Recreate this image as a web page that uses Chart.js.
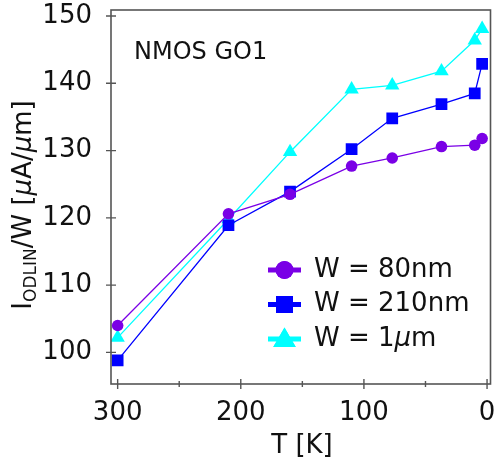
<!DOCTYPE html>
<html>
<head>
<meta charset="utf-8">
<script src="https://cdn.jsdelivr.net/npm/chart.js@4/dist/chart.umd.min.js"></script>
<style>
html,body{margin:0;padding:0;background:#fff;}
#wrap{width:495px;height:472px;position:relative;}
</style>
</head>
<body>
<div id="wrap"><canvas id="c" width="495" height="472"></canvas></div>
<script>
const temps = [300, 210, 160, 110, 77, 37, 10, 4];
const w80nm = [104.0, 120.6, 123.5, 127.7, 128.9, 130.6, 130.8, 131.8];
const w210nm = [98.8, 118.9, 123.9, 130.2, 134.8, 136.9, 138.5, 142.9];
const w1um = [102.2, 119.8, 129.8, 139.1, 139.7, 141.8, 146.4, 148.1];
const xMajorTicks = [0, 100, 200, 300];
const xMinorTicks = [50, 150, 250];
const yTicks = [100, 110, 120, 130, 140, 150];
const seriesNames = ['W = 80nm', 'W = 210nm', 'W = 1\u03BCm'];
const colors = ['#7A00E6', '#0000FF', '#00FFFF'];
const styles = ['circle', 'rect', 'triangle'];
const radii = [5.8, 8.3, 8.3];

const FONT = '"DejaVu Sans", sans-serif';

function pts(vals){ return temps.map((t,i)=>({x:t, y:vals[i]})); }

const decor = {
  id: 'decor',
  afterDraw(chart){
    const {ctx, chartArea:a, scales:{x, y}} = chart;
    ctx.save();
    // frame
    ctx.strokeStyle = '#555';
    ctx.lineWidth = 1.6;
    ctx.strokeRect(a.left, a.top, a.right - a.left, a.bottom - a.top);
    ctx.lineWidth = 1.4;
    ctx.beginPath();
    xMajorTicks.forEach(v=>{ const p = x.getPixelForValue(v); ctx.moveTo(p, a.bottom-5); ctx.lineTo(p, a.bottom+5); });
    xMinorTicks.forEach(v=>{ const p = x.getPixelForValue(v); ctx.moveTo(p, a.bottom-3); ctx.lineTo(p, a.bottom+3); });
    yTicks.forEach(v=>{ const p = y.getPixelForValue(v); ctx.moveTo(a.left-5, p); ctx.lineTo(a.left+5, p); });
    ctx.stroke();

    // title
    ctx.fillStyle = '#111';
    ctx.font = '24px ' + FONT;
    ctx.textBaseline = 'alphabetic';
    ctx.textAlign = 'left';
    ctx.fillText('NMOS GO1', 134, 59);

    // legend
    const lx0 = 268, lx1 = 301, lmx = 284.5, ltx = 314;
    const rows = [270, 304.5, 339];
    ctx.textBaseline = 'middle';
    rows.forEach((ry, i)=>{
      ctx.strokeStyle = colors[i];
      ctx.lineWidth = 5;
      ctx.beginPath(); ctx.moveTo(lx0, ry); ctx.lineTo(lx1, ry); ctx.stroke();
      ctx.fillStyle = colors[i];
      const r = i === 0 ? 9 : (i === 1 ? 12 : 13);
      Chart.helpers.drawPoint(ctx, {pointStyle: styles[i], radius: r, rotation: 0, borderWidth: 0}, lmx, ry + (i===2 ? 1.5 : 0));
      ctx.fill();
      ctx.fillStyle = '#111';
      if (i < 2) {
        ctx.font = '26px ' + FONT;
        ctx.fillText(seriesNames[i], ltx, ry);
      } else {
        ctx.font = '26px ' + FONT;
        let t = 'W = 1';
        ctx.fillText(t, ltx, ry);
        let w = ctx.measureText(t).width;
        ctx.font = 'italic 26px ' + FONT;
        ctx.fillText('\u03BC', ltx + w, ry);
        w += ctx.measureText('\u03BC').width;
        ctx.font = '26px ' + FONT;
        ctx.fillText('m', ltx + w, ry);
      }
    });

    // x title
    ctx.font = '26px ' + FONT;
    ctx.textAlign = 'center';
    ctx.textBaseline = 'alphabetic';
    ctx.fillText('T [K]', 302, 453);

    // y title (rotated)
    ctx.translate(31, 205);
    ctx.rotate(-Math.PI/2);
    const parts = [
      {t:'I', f:'26px ' + FONT, dy:0},
      {t:'ODLIN', f:'17px ' + FONT, dy:5},
      {t:'/W [', f:'26px ' + FONT, dy:0},
      {t:'\u03BC', f:'italic 26px ' + FONT, dy:0},
      {t:'A/', f:'26px ' + FONT, dy:0},
      {t:'\u03BC', f:'italic 26px ' + FONT, dy:0},
      {t:'m]', f:'26px ' + FONT, dy:0}
    ];
    let total = 0;
    parts.forEach(p=>{ ctx.font = p.f; p.w = ctx.measureText(p.t).width; total += p.w; });
    let cx = -total/2;
    ctx.textAlign = 'left';
    parts.forEach(p=>{ ctx.font = p.f; ctx.fillText(p.t, cx, p.dy); cx += p.w; });
    ctx.restore();
  }
};

const datasets = [w80nm, w210nm, w1um].map((vals, i)=>({
  label: seriesNames[i],
  data: pts(vals),
  borderColor: colors[i],
  backgroundColor: colors[i],
  borderWidth: 1.3,
  pointStyle: styles[i],
  pointRadius: radii[i],
  pointBorderWidth: 0,
  pointHoverRadius: radii[i],
  tension: 0
}));

new Chart(document.getElementById('c'), {
  type: 'line',
  data: { datasets },
  options: {
    responsive: false,
    animation: false,
    events: [],
    layout: { padding: { top: 10, right: 4.5, left: 0, bottom: 0 }, autoPadding: false },
    plugins: { legend: { display: false }, tooltip: { enabled: false } },
    scales: {
      x: {
        type: 'linear',
        reverse: true,
        min: -2.8,
        max: 305.4,
        grid: { display: false },
        border: { display: false },
        afterBuildTicks: s => { s.ticks = xMajorTicks.map(v=>({value:v})); },
        afterFit: s => { s.height = 88; s.paddingLeft = 0; s.paddingRight = 0; },
        ticks: { font: { family: FONT, size: 26 }, color: '#111', padding: 6, maxRotation: 0, autoSkip: false }
      },
      y: {
        type: 'linear',
        min: 95.3,
        max: 150.9,
        grid: { display: false },
        border: { display: false },
        afterBuildTicks: s => { s.ticks = yTicks.map(v=>({value:v})); },
        afterFit: s => { s.width = 111; s.paddingTop = 0; s.paddingBottom = 0; },
        ticks: { font: { family: FONT, size: 26 }, color: '#111', padding: 11, autoSkip: false }
      }
    }
  },
  plugins: [decor]
});
</script>
</body>
</html>
